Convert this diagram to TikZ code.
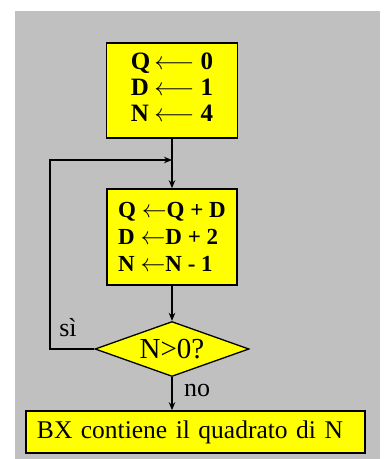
\documentclass[tikz,border=0pt]{standalone}
\usepackage{fontspec}
\setmainfont{Liberation Serif}
\usetikzlibrary{shapes.geometric,arrows.meta}
\definecolor{panel}{HTML}{C0C0C0}
\definecolor{boxyellow}{HTML}{FFFF00}
\begin{document}
\begin{tikzpicture}[x=1pt,y=-1pt,
  procbox/.style={draw=black,line width=1.6pt,fill=boxyellow,inner sep=0pt,align=left},
  decision/.style={diamond,draw=black,line width=1.3pt,fill=boxyellow,inner sep=0pt,
    aspect=2.8,minimum width=154,minimum height=55,font=\fontsize{29}{30}\selectfont},
  flow/.style={line width=1.3pt,-{Stealth[length=8pt,width=6.5pt]}},
  lbl/.style={inner sep=0pt,font=\fontsize{26}{28}\selectfont}]
\useasboundingbox (0,0) rectangle (384,459);
% grey panel
\fill[panel] (15,11) rectangle (380,459);

% initialisation
\node[procbox,minimum width=131,minimum height=95,font=\fontsize{25}{26}\selectfont\bfseries]
  (init) at (172,90.5)
  {\begin{tabular}{@{}l@{\hspace{4pt}}c@{\hspace{6pt}}l@{}}
     Q & $\longleftarrow$ & 0\\
     D & $\longleftarrow$ & 1\\
     N & $\longleftarrow$ & 4
   \end{tabular}};

% loop body
\node[procbox,minimum width=130,minimum height=96,font=\fontsize{23}{27}\selectfont\bfseries]
  (body) at (172,237)
  {Q $\leftarrow$Q + D\\ D $\leftarrow$D + 2\\ N $\leftarrow$N - 1};

% test
\node[decision] (test) at (172,349) {N>0?};

% result
\node[procbox,minimum width=339,minimum height=42,text width=317,inner xsep=11pt,
  font=\fontsize{25.5}{28}\selectfont] (result) at (195.5,432)
  {BX contiene il quadrato di N};

% connectors
\coordinate (join) at (172,160);
\coordinate (loopx) at (50,250);
\draw[line width=1.3pt] (init.south) -- (join);
\draw[flow] (join) -- (body.north);
\draw[flow] (body.south) -- (test.north);
\draw[flow] (test.west) -| (loopx) |- (join);
\draw[flow] (test.south) -- (test.south |- result.north);

% branch labels
\node[lbl] (yes) at (68,328) {sì};
\node[lbl] (no) at (197,390) {no};
\end{tikzpicture}
\end{document}
